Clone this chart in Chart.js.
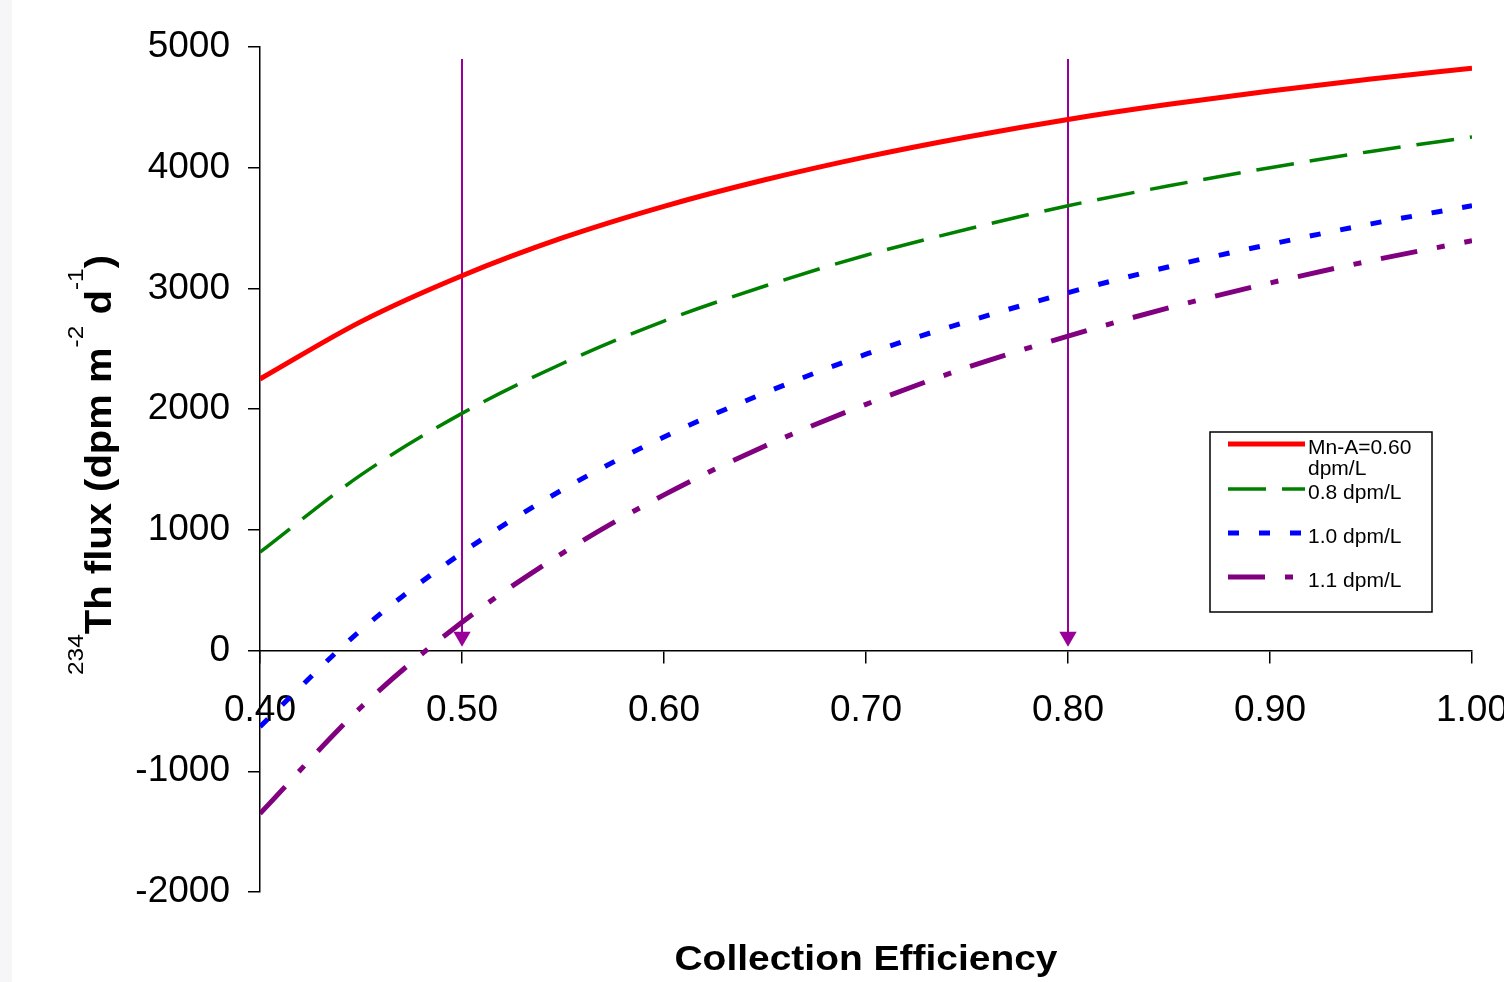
<!DOCTYPE html>
<html lang="en">
<head>
    <meta charset="UTF-8">
    <title>234Th flux vs collection efficiency</title>
    <style>
        body { margin: 0; background: #fff; }
        canvas { display: block; }
    </style>
</head>
<body>
<canvas id="mycanvas" width="1504" height="982"></canvas>

<script src="https://cdn.jsdelivr.net/npm/chart.js"></script>

<script>
    // values, every 0.05 of efficiency
    const efficiency = [0.40, 0.45, 0.50, 0.55, 0.60, 0.65, 0.70, 0.75, 0.80, 0.85, 0.90, 0.95, 1.00];
    const fluxMn060 = [2250, 2725, 3105, 3420, 3680, 3900, 4090, 4255, 4400, 4525, 4635, 4735, 4825];
    const flux08 = [815, 1455, 1965, 2380, 2730, 3020, 3275, 3490, 3685, 3850, 4000, 4135, 4255];
    const flux10 = [-630, 170, 810, 1335, 1770, 2135, 2455, 2725, 2965, 3180, 3365, 3535, 3685];
    const flux11 = [-1350, -470, 235, 810, 1290, 1695, 2040, 2345, 2605, 2840, 3045, 3230, 3395];
    const seriesNames = ["Mn-A=0.60\ndpm/L", "0.8 dpm/L", "1.0 dpm/L", "1.1 dpm/L"];

    // arrows pointing at 0.50 and 0.80
    const arrowX = [0.50, 0.80];
    const arrowTop = 4900;
    const arrowBottom = 115;

    const xMin = 0.40, xMax = 1.00, xStep = 0.10;
    const yMin = -2000, yMax = 5000, yStep = 1000;

    function toPoints(vals) {
        return efficiency.map((e, i) => ({x: e, y: vals[i]}));
    }

    const lineStyles = [
        {color: "#ff0000", dash: [], width: 5},
        {color: "#008000", dash: [38, 16], width: 3.5},
        {color: "#0000ff", dash: [11, 20], width: 5},
        {color: "#800080", dash: [37, 20, 8, 20], width: 5}
    ];
    const allSeries = [fluxMn060, flux08, flux10, flux11];

    const datasets = allSeries.map((vals, i) => ({
        label: seriesNames[i],
        data: toPoints(vals),
        borderColor: lineStyles[i].color,
        borderDash: lineStyles[i].dash,
        borderWidth: lineStyles[i].width,
        borderCapStyle: "butt",
        pointRadius: 0,
        tension: 0.4,
        cubicInterpolationMode: "monotone",
        fill: false
    }));

    arrowX.forEach(ax => {
        datasets.push({
            label: "arrow",
            data: [{x: ax, y: arrowTop}, {x: ax, y: arrowBottom}],
            borderColor: "#990099",
            backgroundColor: "#990099",
            borderWidth: 2,
            pointRadius: [0, 10],
            pointStyle: "triangle",
            pointRotation: 180,
            pointBorderWidth: 0,
            tension: 0
        });
    });

    const FONT = "'Liberation Sans', Arial, sans-serif";

    const pagePlugin = {
        id: "page",
        beforeDraw(chart) {
            const c = chart.ctx;
            c.save();
            c.fillStyle = "#ffffff";
            c.fillRect(0, 0, chart.width, chart.height);
            c.fillStyle = "#f6f6f8";
            c.fillRect(0, 0, 12, chart.height);
            c.restore();
        },
        afterDraw(chart) {
            const c = chart.ctx;
            c.save();
            c.fillStyle = "#000";
            // x title
            c.font = "bold 35px " + FONT;
            const xt = "Collection Efficiency";
            let w = c.measureText(xt).width;
            c.translate(866, 970);
            c.scale(383 / w, 1);
            c.textAlign = "center";
            c.textBaseline = "alphabetic";
            c.fillText(xt, 0, 0);
            c.restore();

            // y title with superscripts
            const parts = [
                {t: "234", sup: true},
                {t: "Th flux (dpm m", sup: false},
                {t: "-2", sup: true},
                {t: " d", sup: false},
                {t: "-1", sup: true},
                {t: ")", sup: false}
            ];
            c.save();
            let total = 0;
            parts.forEach(p => {
                c.font = p.sup ? "22px " + FONT : "bold 36px " + FONT;
                p.w = c.measureText(p.t).width;
                total += p.w;
            });
            c.translate(111, 465);
            c.rotate(-Math.PI / 2);
            c.scale(420 / total, 1);
            c.fillStyle = "#000";
            c.textBaseline = "alphabetic";
            let px = -total / 2;
            parts.forEach(p => {
                c.font = p.sup ? "22px " + FONT : "bold 36px " + FONT;
                c.fillText(p.t, px, p.sup ? -28 : 0);
                px += p.w;
            });
            c.restore();

            // legend box
            c.save();
            c.strokeStyle = "#000";
            c.lineWidth = 1.5;
            c.strokeRect(1210, 432, 222, 180);
            const rows = [444, 489, 533, 577];
            seriesNames.forEach((name, i) => {
                const st = lineStyles[i];
                c.beginPath();
                c.strokeStyle = st.color;
                c.lineWidth = st.width;
                c.setLineDash(st.dash);
                c.moveTo(1228, rows[i]);
                c.lineTo(1305, rows[i]);
                c.stroke();
                c.setLineDash([]);
                c.fillStyle = "#000";
                c.font = "21px " + FONT;
                c.textBaseline = "middle";
                const lines = name.split("\n");
                lines.forEach((ln, k) => {
                    c.fillText(ln, 1308, rows[i] + 4 + k * 21);
                });
            });
            c.restore();
        }
    };

    const ctx = document.getElementById("mycanvas").getContext("2d");
    new Chart(ctx, {
        type: "line",
        data: {datasets: datasets},
        plugins: [pagePlugin],
        options: {
            responsive: false,
            animation: false,
            devicePixelRatio: 1,
            layout: {
                autoPadding: false,
                padding: {left: 0, right: 32, top: 47, bottom: 90}
            },
            plugins: {
                legend: {display: false},
                tooltip: {enabled: false}
            },
            scales: {
                x: {
                    type: "linear",
                    position: {y: 0},
                    min: xMin,
                    max: xMax,
                    ticks: {
                        stepSize: xStep,
                        color: "#000",
                        font: {size: 37, family: FONT},
                        padding: 26,
                        maxRotation: 0,
                        callback: v => v.toFixed(2)
                    },
                    grid: {drawOnChartArea: false, drawTicks: true, tickLength: 12, color: "#000", lineWidth: 1.5},
                    border: {color: "#000", width: 1.5},
                    afterFit: s => { s.paddingLeft = 0; s.paddingRight = 0; }
                },
                y: {
                    type: "linear",
                    min: yMin,
                    max: yMax,
                    ticks: {
                        stepSize: yStep,
                        color: "#000",
                        font: {size: 37, family: FONT},
                        padding: 18,
                        callback: v => String(v)
                    },
                    grid: {drawOnChartArea: false, drawTicks: true, tickLength: 12, color: "#000", lineWidth: 1.5},
                    border: {color: "#000", width: 1.5},
                    afterFit: s => { s.width = 260; s.paddingTop = 0; s.paddingBottom = 0; }
                }
            }
        }
    });
</script>
</body>
</html>
